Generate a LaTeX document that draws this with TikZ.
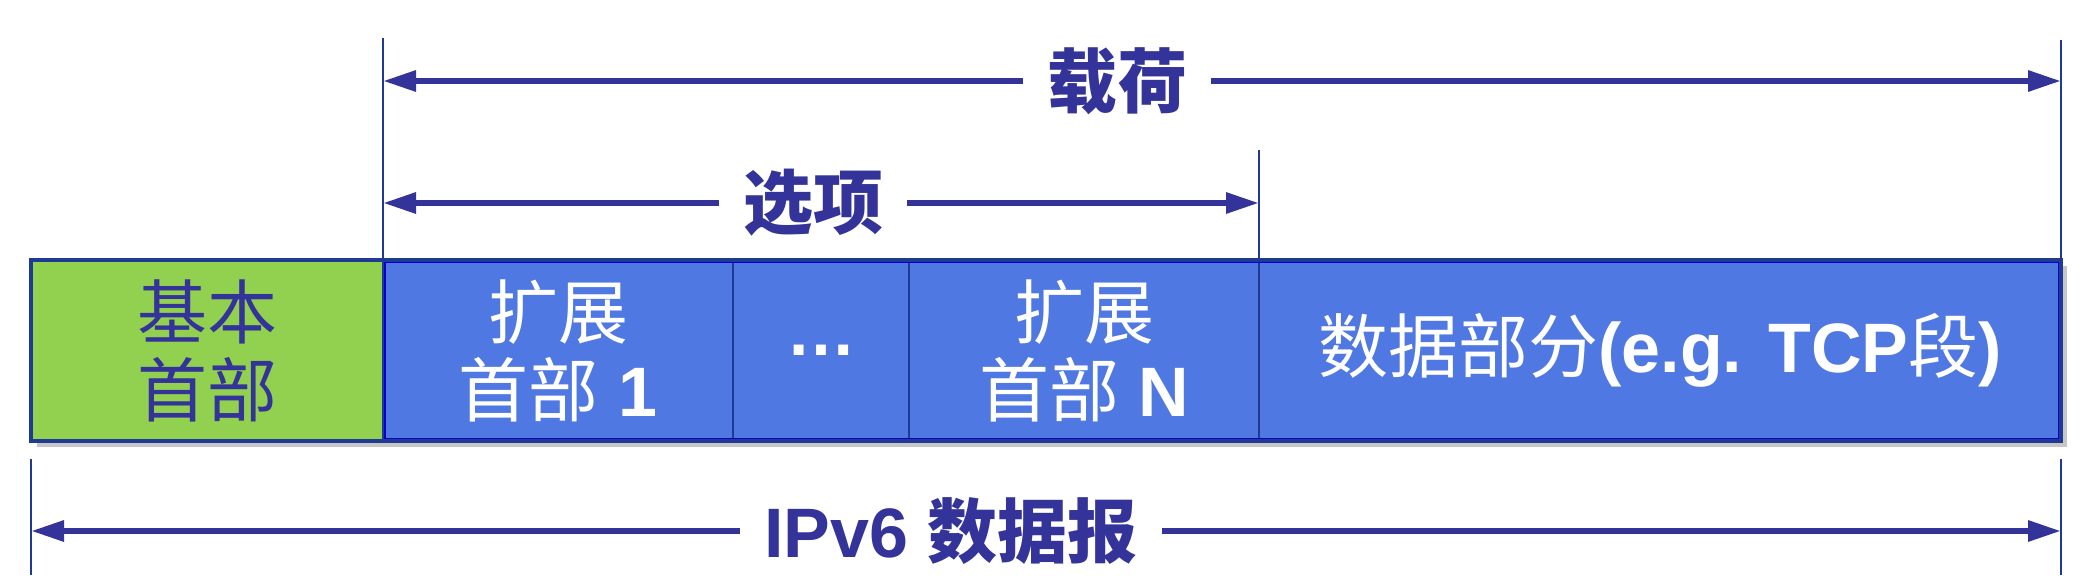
\documentclass[tikz,border=0pt]{standalone}
\usepackage{fontspec}
\setmainfont{Liberation Sans}
\newfontfamily\cjk{Noto Sans CJK SC}
\usetikzlibrary{positioning,arrows.meta,backgrounds}
\definecolor{navy}{HTML}{333399}
\definecolor{framenavy}{HTML}{1F3A93}
\definecolor{hdrgreen}{HTML}{92D050}
\definecolor{cellblue}{HTML}{4F78E2}
\definecolor{edgeblue}{HTML}{0000CC}

\begin{document}
\begin{tikzpicture}[x=0.5pt,y=-0.5pt,
		font=\fontsize{35}{39}\selectfont,
		cell/.style={draw=framenavy,line width=1pt,fill=cellblue,text=white,
			outer sep=0pt,inner sep=0pt,minimum height=90.5pt,align=center},
		dim/.style={navy,line width=3pt,-{Triangle[length=16.5pt,width=10pt]}},
		tick/.style={framenavy,line width=1pt},
		lbl/.style={text=navy,inner xsep=12pt,inner ysep=2pt,font=\fontsize{35}{39}\selectfont\bfseries}]
			\useasboundingbox (0,0) rectangle (2086,582);
			\node[cell,fill=hdrgreen,text=navy,minimum width=176pt] (base) at (207,350.5) {{\cjk 基本}\\{\cjk 首部}};
			\node[cell,minimum width=175pt,right=0pt of base] (ext1) {{\cjk 扩展}\\{\cjk 首部} \textbf{1}};
			\node[cell,minimum width=88pt,right=0pt of ext1] (dots) {\textbf{…}};
			\node[cell,minimum width=175pt,right=0pt of dots] (extN) {{\cjk 扩展}\\{\cjk 首部} \textbf{N}};
			\node[cell,minimum width=401pt,right=0pt of extN] (data) {{\cjk 数据部分}\textbf{(e.g. TCP}{\cjk 段}\textbf{)}};
			\draw[edgeblue,line width=1.2pt] ([shift={(2,2)}]ext1.north west) rectangle ([shift={(-2,-2)}]data.south east);
			\draw[framenavy,line width=2pt] (base.north west) rectangle (data.south east);
			\begin{pgfonlayer}{background}
				\fill[gray!45] ([shift={(6,6)}]base.north west) rectangle ([shift={(6,6)}]data.south east);
			\end{pgfonlayer}
			% ticks
			\draw[tick] (base.north east) -- ++(0,-222);
			\draw[tick] (data.north east) -- ++(0,-220);
			\draw[tick] (extN.north east) -- ++(0,-110);
			\draw[tick] ([yshift=-9pt]base.south west) -- ++(0,116);
			\draw[tick] ([yshift=-9pt]data.south east) -- ++(0,116);
			% payload
			\coordinate (payL) at (base.north east |- 0,81);
			\coordinate (payR) at (data.north east |- 0,81);
			\node[lbl] (payload) at (1117,81) {\cjk 载荷};
			\draw[dim] (payload) -- (payL);
			\draw[dim] (payload) -- (payR);
			% options
			\coordinate (optL) at (base.north east |- 0,203);
			\coordinate (optR) at (extN.north east |- 0,203);
			\node[lbl] (options) at (813,203) {\cjk 选项};
			\draw[dim] (options) -- (optL);
			\draw[dim] (options) -- (optR);
			% datagram
			\coordinate (dgL) at (base.south west |- 0,531);
			\coordinate (dgR) at (data.south east |- 0,531);
			\node[lbl] (datagram) at (951,531) {IPv6 {\cjk 数据报}};
			\draw[dim] (datagram) -- (dgL);
			\draw[dim] (datagram) -- (dgR);
		\end{tikzpicture}
\end{document}
